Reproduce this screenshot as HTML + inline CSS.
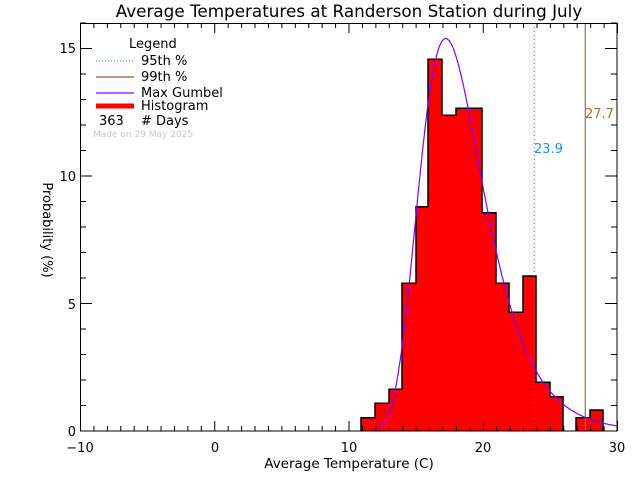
<!DOCTYPE html>
<html><head><style>
body{margin:0;background:#fff}
svg text{font-family:"DejaVu Sans","Liberation Sans",sans-serif}
</style></head><body>
<svg id="s" width="640" height="480" viewBox="0 0 640 480" xmlns="http://www.w3.org/2000/svg">
<rect width="640" height="480" fill="#fff"/>
<text x="349" y="17" font-size="16.8" text-anchor="middle">Average Temperatures at Randerson Station during July</text>
<g id="bars" fill="#ff0000" stroke="#000" stroke-width="1.5"></g>
<line x1="534.3" y1="23" x2="534.3" y2="431" stroke="#a0522d" stroke-width="1" stroke-dasharray="1,3"/>
<line x1="585.3" y1="23" x2="585.3" y2="431" stroke="#a0703a" stroke-width="1.2"/>
<path id="gum" fill="none" stroke="#8000ff" stroke-width="1.2"/>
<text x="534" y="153" font-size="13" fill="#1e90ff">23.9</text>
<text x="585" y="118" font-size="13" fill="#b06a30">27.7</text>
<g id="ax" stroke="#000" stroke-width="1"></g>
<rect x="80.5" y="23.5" width="536.5" height="407.5" fill="none" stroke="#000"/>
<g font-size="13" text-anchor="middle">
<text x="80" y="452">−10</text><text x="215" y="452">0</text><text x="349" y="452">10</text><text x="483" y="452">20</text><text x="617" y="452">30</text>
</g>
<g font-size="13" text-anchor="end">
<text x="76" y="436">0</text><text x="76" y="309">5</text><text x="76" y="181">10</text><text x="76" y="53">15</text>
</g>
<text x="349" y="468" font-size="13.5" text-anchor="middle">Average Temperature (C)</text>
<text transform="translate(43,230) rotate(90)" font-size="13" text-anchor="middle">Probability  (%)</text>
<g font-size="13">
<text x="129" y="48">Legend</text>
<line x1="96" y1="61" x2="134" y2="61" stroke="#1e90ff" stroke-dasharray="1,2"/>
<text x="141" y="65">95th %</text>
<line x1="96" y1="77" x2="134" y2="77" stroke="#a0522d" stroke-width="1.2"/>
<text x="141" y="81">99th %</text>
<line x1="96" y1="93" x2="134" y2="93" stroke="#8000ff" stroke-width="1.2"/>
<text x="141" y="97">Max Gumbel</text>
<line x1="96" y1="106" x2="134" y2="106" stroke="#ff0000" stroke-width="5"/>
<text x="141" y="110">Histogram</text>
<text x="99" y="125">363</text><text x="141" y="125"># Days</text>
</g>
<text x="93" y="137" font-size="9" fill="#c8c8c8">Made on 29 May 2025</text>
</svg>
<script>
var bars=[[361,375,417.7],[375,389,403.3],[389,402,389.3],[402,416,283.3],[416,428,206.7],[428,442,59.3],[442,456,115.3],[456,469,108.3],[469,482,108.3],[482,496,212.7],[496,509,283.3],[509,523,312.3],[523,536,276],[536,550,382.3],[550,563,396.7],[576,590,417.7],[590,603,410]];
var ns="http://www.w3.org/2000/svg",g=document.getElementById('bars');
function el(t,a,p){var e=document.createElementNS(ns,t);for(var k in a)e.setAttribute(k,a[k]);p.appendChild(e);return e;}
bars.forEach(function(b){el('rect',{x:b[0],y:b[2],width:b[1]-b[0],height:431-b[2],stroke:'none'},g);});
var d='';var prev=null;
bars.forEach(function(b,i){
 if(prev===null||prev[1]!==b[0]){d+='M'+b[0]+' 431 ';}
 d+='L'+b[0]+' '+b[2]+' L'+b[1]+' '+b[2]+' ';
 var nx=bars[i+1];
 if(!nx||nx[0]!==b[1]) d+='L'+b[1]+' 431 ';
 prev=b;});
el('path',{d:d,fill:'none'},g);
var mu=17.24,be=2.39,p='';
for(var x=12.2;x<=30;x+=0.05){var z=(x-mu)/be;var f=Math.exp(-(z+Math.exp(-z)))/be;
 var px=80+(x+10)*13.425,py=431-25.5*100*f;p+=(p?'L':'M')+px.toFixed(1)+' '+py.toFixed(1);}
document.getElementById('gum').setAttribute('d',p);
var ax=document.getElementById('ax');
for(var v=-10;v<=30;v++){var X=80.5+(v+10)*13.425;var L=(v%10===0)?10:5;
 el('line',{x1:X,y1:431,x2:X,y2:431-L},ax);el('line',{x1:X,y1:23,x2:X,y2:23+L},ax);}
for(var v=0;v<=16;v++){var Y=431-v*25.5;var L=(v%5===0)?12:6;
 el('line',{x1:80,y1:Y,x2:80+L,y2:Y},ax);el('line',{x1:617,y1:Y,x2:617-L,y2:Y},ax);}
</script>
</body></html>
